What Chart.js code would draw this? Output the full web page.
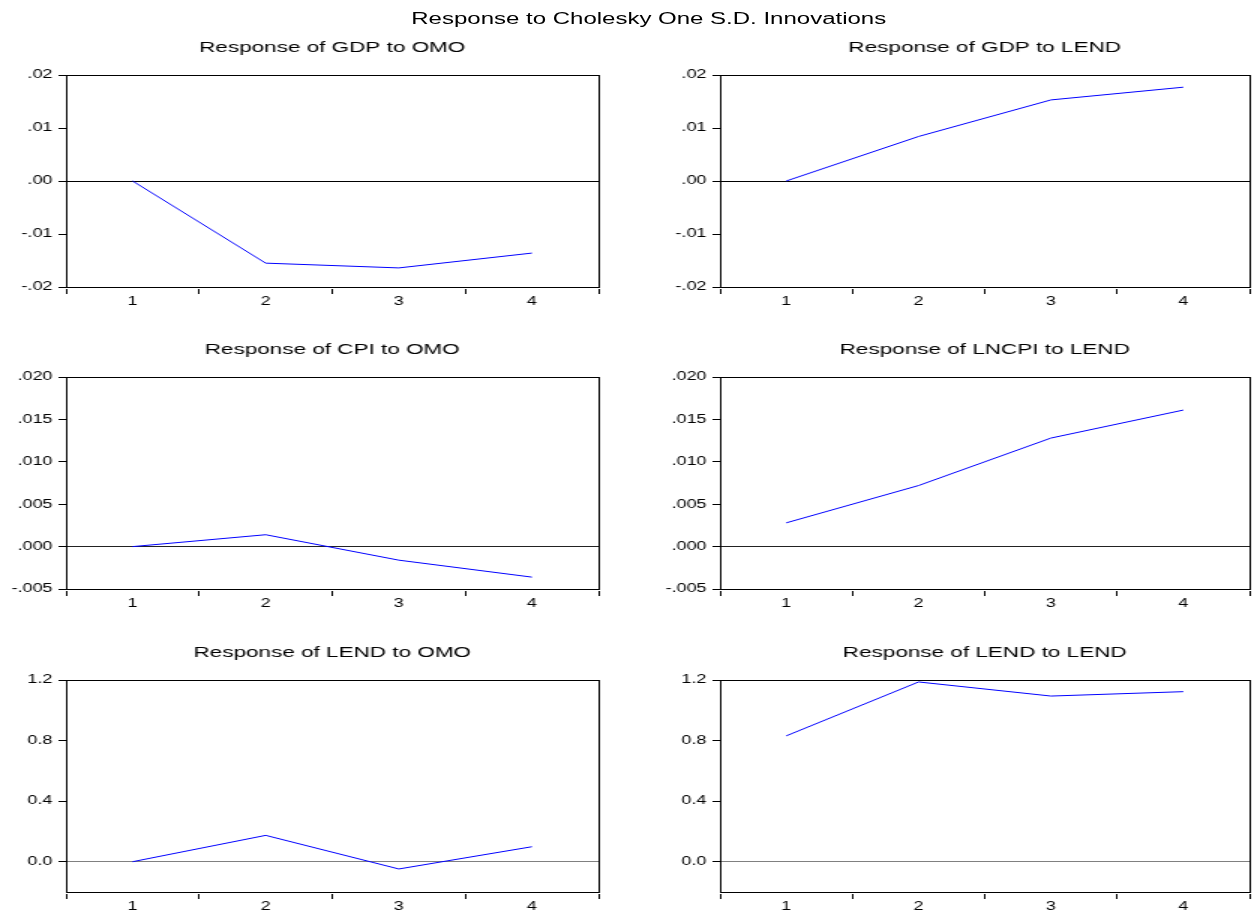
<!DOCTYPE html>
<html>
<head>
<meta charset="utf-8">
<script src="https://cdn.jsdelivr.net/npm/chart.js@4.4.1/dist/chart.umd.min.js"></script>
<style>
  body { margin: 0; background: #fff; overflow: hidden; }
  /* the reference is stretched sideways, so lay out narrow and scale x by 1.5 */
  #page { position: absolute; left: 0; top: 0; width: 838px; height: 911px; transform: scaleX(1.5); transform-origin: 0 0; }
  #page canvas { position: absolute; }
  #main-title { position: absolute; left: 0; top: 9px; width: 865px; text-align: center; font: 16px "Liberation Sans", Arial, sans-serif; line-height: 20px; color: #000; }
</style>
</head>
<body>
<div id="page">
  <div id="main-title">Response to Cholesky One S.D. Innovations</div>
  <canvas id="gdpOmo" width="413" height="272" style="left:0;top:39px"></canvas>
  <canvas id="gdpLend" width="410" height="272" style="left:427px;top:39px"></canvas>
  <canvas id="cpiOmo" width="413" height="272" style="left:0;top:341px"></canvas>
  <canvas id="lncpiLend" width="410" height="272" style="left:427px;top:341px"></canvas>
  <canvas id="lendOmo" width="413" height="272" style="left:0;top:644px"></canvas>
  <canvas id="lendLend" width="410" height="272" style="left:427px;top:644px"></canvas>
</div>
<script>
const periods = ["1", "2", "3", "4"];

const gdpToOmo = [0, -0.0155, -0.0164, -0.0136];
const gdpToLend = [0, 0.0084, 0.0153, 0.0177];
const cpiToOmo = [0, 0.0014, -0.0016, -0.0036];
const lncpiToLend = [0.0028, 0.0072, 0.0128, 0.0161];
const lendToOmo = [0, 0.174, -0.048, 0.099];
const lendToLend = [0.831, 1.187, 1.094, 1.123];

const gdpTicks = [-0.02, -0.01, 0, 0.01, 0.02];
const gdpTickLabels = ["-.02", "-.01", ".00", ".01", ".02"];
const cpiTicks = [-0.005, 0, 0.005, 0.01, 0.015, 0.02];
const cpiTickLabels = ["-.005", ".000", ".005", ".010", ".015", ".020"];
const lendTicks = [0, 0.4, 0.8, 1.2];
const lendTickLabels = ["0.0", "0.4", "0.8", "1.2"];

Chart.defaults.font.family = '"Liberation Sans", Arial, sans-serif';
Chart.defaults.color = "#000";

// black frame round the plot area
const boxPlugin = {
  id: "box",
  afterDatasetsDraw(chart) {
    const a = chart.chartArea;
    const ctx = chart.ctx;
    ctx.save();
    ctx.strokeStyle = "#000";
    ctx.lineWidth = 1;
    ctx.strokeRect(Math.round(a.left) + 0.5, Math.round(a.top) + 0.5,
      Math.round(a.right - a.left), Math.round(a.bottom - a.top));
    ctx.restore();
  },
};

function makePanel(id, title, values, ticks, tickLabels, min, max, zeroColor, leftCol) {
  const ctx = document.getElementById(id).getContext("2d");
  return new Chart(ctx, {
    type: "line",
    data: {
      labels: periods,
      datasets: [
        {
          data: values,
          borderColor: "#0000ff",
          borderWidth: 1,
          pointRadius: 0,
          tension: 0,
          fill: false,
        },
      ],
    },
    plugins: [boxPlugin],
    options: {
      responsive: false,
      animation: false,
      events: [],
      layout: {
        padding: { left: 0, right: leftCol ? 14 : 4, top: 0, bottom: 0 },
      },
      plugins: {
        legend: { display: false },
        tooltip: { enabled: false },
        title: {
          display: true,
          text: title,
          fullSize: false,
          font: { size: 15, weight: "normal" },
          color: "#000",
          padding: { top: 0, bottom: 18 },
        },
      },
      scales: {
        x: {
          type: "category",
          offset: true,
          afterFit: (s) => { s.height = 24; },
          border: { display: true, width: 3, color: "rgba(0,0,0,0)" },
          grid: {
            offset: true,
            drawOnChartArea: false,
            tickLength: 7,
            tickColor: "#000",
          },
          ticks: { font: { size: 12 }, padding: 0, maxRotation: 0 },
        },
        y: {
          min: min,
          max: max,
          afterFit: (s) => { s.width = leftCol ? 44 : 53; },
          afterBuildTicks: (s) => { s.ticks = ticks.map((v) => ({ value: v })); },
          border: { display: false },
          grid: {
            drawOnChartArea: true,
            tickLength: 5,
            tickColor: "#000",
            color: (c) => (c.tick && c.tick.value === 0 ? zeroColor : "rgba(0,0,0,0)"),
          },
          ticks: {
            font: { size: 12 },
            padding: 4,
            callback: (v, i) => tickLabels[i],
          },
        },
      },
    },
  });
}

makePanel("gdpOmo", "Response of GDP to OMO", gdpToOmo, gdpTicks, gdpTickLabels, -0.02, 0.02, "#000", true);
makePanel("gdpLend", "Response of GDP to LEND", gdpToLend, gdpTicks, gdpTickLabels, -0.02, 0.02, "#000", false);
makePanel("cpiOmo", "Response of CPI to OMO", cpiToOmo, cpiTicks, cpiTickLabels, -0.005, 0.02, "#222", true);
makePanel("lncpiLend", "Response of LNCPI to LEND", lncpiToLend, cpiTicks, cpiTickLabels, -0.005, 0.02, "#222", false);
makePanel("lendOmo", "Response of LEND to OMO", lendToOmo, lendTicks, lendTickLabels, -0.2, 1.2, "#808080", true);
makePanel("lendLend", "Response of LEND to LEND", lendToLend, lendTicks, lendTickLabels, -0.2, 1.2, "#808080", false);
</script>
</body>
</html>
